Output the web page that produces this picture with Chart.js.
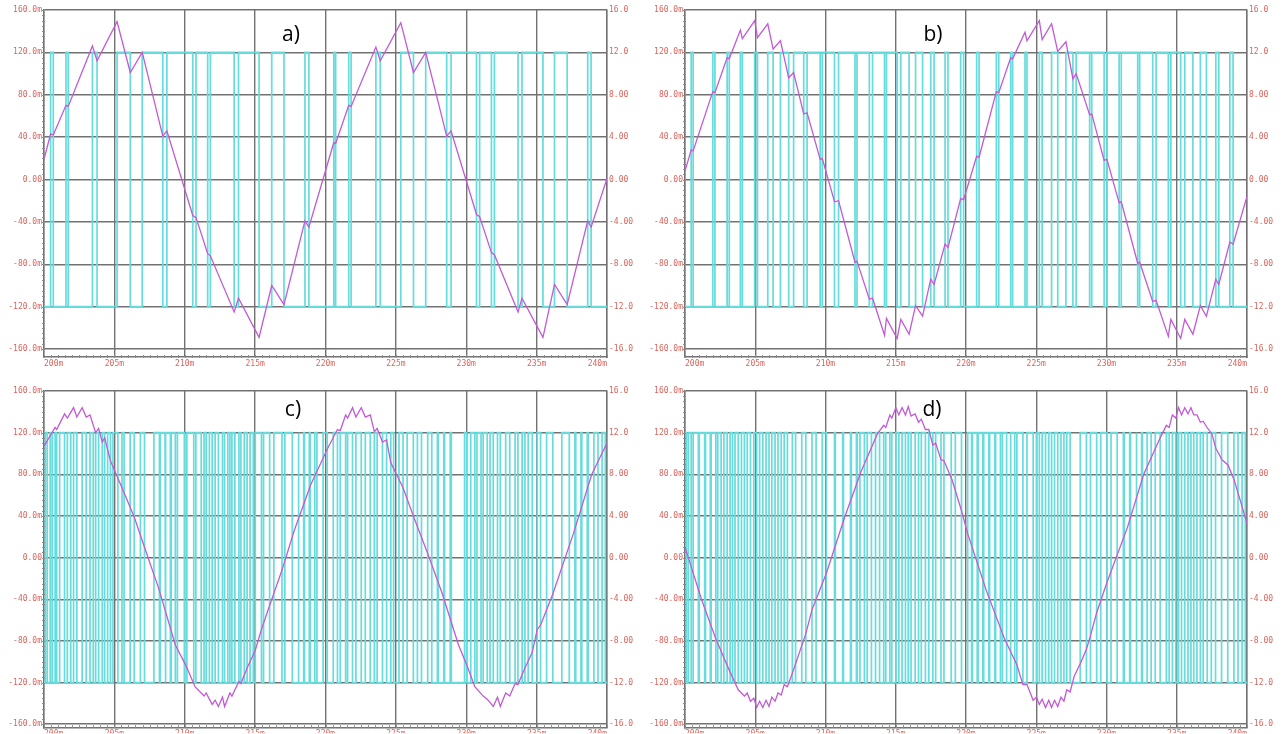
<!DOCTYPE html>
<html lang="en">
<head>
<meta charset="UTF-8">
<title>PWM current waveforms a-d</title>
<script src="https://cdn.jsdelivr.net/npm/chart.js@4.4.1/dist/chart.umd.min.js"></script>
<style>
    body { margin: 0; background: #fff; width: 1283px; height: 734px; overflow: hidden; position: relative; }
    canvas { position: absolute; }
    .tag { position: absolute; font-family: "Open Sans", sans-serif; font-size: 21px; color: #000; transform: translate(-50%, -50%); }
</style>
</head>
<body>
<canvas id="ca" width="641" height="372" style="left:0;top:0"></canvas>
<canvas id="cb" width="642" height="372" style="left:641px;top:0"></canvas>
<canvas id="cc" width="641" height="354" style="left:0;top:380px"></canvas>
<canvas id="cd" width="642" height="354" style="left:641px;top:380px"></canvas>
<div class="tag" style="left:291px;top:33px">a)</div>
<div class="tag" style="left:933px;top:33px">b)</div>
<div class="tag" style="left:293px;top:408px">c)</div>
<div class="tag" style="left:932px;top:408px">d)</div>

<script>
// axis ticks (time in ms, current in mA, voltage in V)
const xTicks = [200, 205, 210, 215, 220, 225, 230, 235, 240];
const xLabels = ['200m', '205m', '210m', '215m', '220m', '225m', '230m', '235m', '240m'];
const leftTicks = [160, 120, 80, 40, 0, -40, -80, -120, -160];
const leftLabels = ['160.0m', '120.0m', '80.0m', '40.0m', '0.00', '-40.0m', '-80.0m', '-120.0m', '-160.0m'];
const rightTicks = [16, 12, 8, 4, 0, -4, -8, -12, -16];
const rightLabels = ['16.0', '12.0', '8.00', '4.00', '0.00', '-4.00', '-8.00', '-12.0', '-16.0'];
const pwmLevel = 12;

// a) current vertices
const aCurT = [200.00, 200.47, 200.66, 201.56, 201.72, 203.44, 203.77, 205.19, 206.13, 206.98, 208.44, 208.73, 210.57, 210.80, 211.63, 211.82, 213.51, 213.82, 215.28, 216.18, 217.05, 218.54, 218.82, 220.59, 220.72, 221.65, 221.82, 223.58, 223.89, 225.35, 226.25, 227.12, 228.61, 228.92, 230.73, 230.95, 231.79, 232.00, 233.68, 233.96, 235.45, 236.27, 237.17, 238.63, 238.87, 240.00];
const aCurI = [19, 43, 42, 70, 69, 126, 112, 149, 101, 120, 41, 46, -34, -36, -70, -72, -125, -112, -149, -100, -118, -39, -45, 35, 34, 70, 69, 125, 112, 148, 101, 120, 41, 46, -33, -35, -69, -71, -125, -112, -149, -99, -118, -39, -45, 1];
// a) switching instants
const aSwitch = [200.47, 200.66, 201.56, 201.72, 203.44, 203.77, 205.19, 206.13, 206.98, 208.44, 208.73, 210.57, 210.80, 211.63, 211.82, 213.51, 213.82, 215.28, 216.18, 217.05, 218.54, 218.82, 220.59, 220.72, 221.65, 221.82, 223.58, 223.89, 225.35, 226.25, 227.12, 228.61, 228.92, 230.73, 230.95, 231.79, 232.00, 233.68, 233.96, 235.45, 236.27, 237.17, 238.63, 238.87];

// b)
const bCurT = [200.00, 200.44, 200.58, 201.98, 202.13, 203.00, 203.15, 203.94, 204.08, 204.96, 205.16, 205.89, 206.27, 206.79, 207.38, 207.73, 208.45, 208.69, 209.62, 209.77, 210.64, 210.93, 212.10, 212.24, 213.12, 213.35, 214.20, 214.34, 215.10, 215.36, 215.95, 216.41, 216.91, 217.49, 217.73, 218.51, 218.72, 219.62, 219.83, 220.76, 220.93, 222.16, 222.33, 223.18, 223.32, 224.20, 224.34, 225.22, 225.42, 226.09, 226.53, 227.11, 227.61, 227.84, 228.80, 228.95, 229.83, 230.03, 230.90, 231.05, 232.22, 232.36, 233.29, 233.53, 234.40, 234.58, 235.28, 235.57, 236.15, 236.68, 237.11, 237.78, 237.99, 238.78, 239.01, 240.00];
const bCurI = [8, 28, 27, 83, 82, 115, 114, 141, 133, 150, 134, 147, 123, 131, 96, 101, 62, 63, 19, 20, -21, -20, -78, -77, -113, -112, -147, -131, -150, -132, -146, -119, -129, -94, -99, -61, -64, -18, -19, 22, 21, 83, 82, 115, 114, 139, 131, 150, 132, 147, 121, 130, 95, 100, 61, 62, 18, 19, -22, -21, -79, -78, -115, -114, -148, -132, -150, -132, -146, -119, -129, -94, -99, -59, -61, -16];
const bSwitch = [200.44, 200.58, 201.98, 202.13, 203.00, 203.15, 203.94, 204.08, 204.96, 205.16, 205.89, 206.27, 206.79, 207.38, 207.73, 208.45, 208.69, 209.62, 209.77, 210.64, 210.93, 212.10, 212.24, 213.12, 213.35, 214.20, 214.34, 215.10, 215.36, 215.95, 216.41, 216.91, 217.49, 217.73, 218.51, 218.72, 219.62, 219.83, 220.76, 220.93, 222.16, 222.33, 223.18, 223.32, 224.20, 224.34, 225.22, 225.42, 226.09, 226.53, 227.11, 227.61, 227.84, 228.80, 228.95, 229.83, 230.03, 230.90, 231.05, 232.22, 232.36, 233.29, 233.53, 234.40, 234.58, 235.28, 235.57, 236.15, 236.68, 237.11, 237.78, 237.99, 238.78, 239.01];

// c)
const cCurT = [200.00, 200.79, 200.90, 201.46, 201.66, 202.10, 202.33, 202.71, 203.00, 203.27, 203.67, 203.88, 204.14, 204.31, 204.72, 205.54, 206.41, 207.14, 208.16, 209.33, 210.06, 210.73, 211.37, 211.52, 211.95, 212.16, 212.39, 212.68, 212.83, 213.21, 213.35, 213.85, 213.99, 214.43, 215.01, 215.45, 216.03, 216.91, 217.78, 218.95, 220.12, 220.85, 221.05, 221.43, 221.57, 221.92, 222.16, 222.54, 222.83, 223.18, 223.47, 223.67, 224.05, 224.34, 224.64, 225.51, 226.24, 227.26, 228.28, 229.45, 230.03, 230.61, 231.20, 231.49, 231.92, 232.22, 232.42, 232.80, 233.09, 233.47, 233.67, 234.17, 234.69, 235.04, 235.28, 236.15, 237.61, 238.92, 240.00];
const cCurI = [107, 125, 123, 138, 134, 144, 135, 144, 135, 137, 120, 124, 111, 115, 93, 67, 39, 10, -30, -84, -103, -124, -133, -130, -141, -137, -143, -134, -143, -130, -133, -119, -121, -106, -89, -69, -46, -12, 26, 70, 104, 123, 122, 137, 134, 144, 135, 144, 135, 137, 121, 124, 111, 113, 91, 67, 40, 4, -34, -84, -103, -124, -133, -136, -143, -134, -143, -130, -133, -121, -122, -106, -91, -69, -65, -35, 23, 80, 110];
const cSwitch = [200.09, 200.23, 200.44, 200.58, 200.79, 200.90, 201.11, 201.46, 201.66, 201.90, 202.10, 202.33, 202.71, 203.00, 203.27, 203.50, 203.67, 203.88, 204.14, 204.31, 204.52, 204.72, 204.90, 205.25, 205.54, 205.69, 206.12, 206.41, 206.85, 207.14, 207.81, 208.20, 208.26, 208.60, 208.66, 208.98, 209.04, 209.33, 209.48, 209.97, 210.15, 210.64, 210.79, 211.17, 211.37, 211.52, 211.75, 211.95, 212.16, 212.39, 212.68, 212.83, 213.06, 213.21, 213.35, 213.56, 213.85, 213.99, 214.23, 214.43, 214.64, 214.87, 215.01, 215.45, 215.60, 216.03, 216.33, 216.91, 217.11, 217.64, 218.05, 218.11, 218.45, 218.51, 218.85, 218.91, 219.24, 219.39, 219.83, 220.12, 220.55, 220.85, 221.05, 221.43, 221.57, 221.92, 222.16, 222.54, 222.83, 223.18, 223.47, 223.67, 224.05, 224.34, 224.64, 224.84, 225.22, 225.51, 225.80, 226.24, 226.53, 226.82, 227.26, 227.55, 227.95, 228.01, 228.40, 228.46, 228.86, 228.94, 229.88, 230.03, 230.32, 230.61, 230.76, 231.05, 231.20, 231.49, 231.69, 231.92, 232.22, 232.42, 232.80, 233.09, 233.47, 233.67, 233.97, 234.17, 234.40, 234.69, 235.04, 235.28, 235.71, 236.15, 236.79, 237.32, 237.72, 237.78, 238.15, 238.21, 238.60, 238.66, 239.07, 239.36, 239.65, 239.88];

// d)
const dCurT = [200.00, 201.17, 202.19, 203.21, 203.79, 204.23, 204.43, 204.66, 204.90, 205.10, 205.31, 205.54, 205.77, 205.98, 206.18, 206.41, 206.62, 206.85, 207.06, 207.29, 207.64, 208.60, 209.04, 210.06, 211.37, 212.54, 213.70, 214.14, 214.29, 214.58, 214.72, 215.01, 215.22, 215.45, 215.69, 215.89, 216.09, 216.38, 216.62, 216.82, 217.11, 217.35, 217.64, 217.84, 218.22, 218.43, 219.00, 219.68, 220.12, 221.43, 222.74, 223.62, 224.05, 224.34, 224.78, 225.01, 225.22, 225.42, 225.66, 225.89, 226.09, 226.30, 226.53, 226.76, 226.97, 227.17, 227.41, 227.70, 228.13, 228.57, 228.86, 229.30, 230.03, 231.49, 232.65, 233.82, 234.26, 234.46, 234.69, 234.93, 235.13, 235.34, 235.57, 235.80, 236.01, 236.21, 236.44, 236.68, 236.88, 237.20, 237.50, 237.78, 238.22, 238.65, 239.10, 240.00];
const dCurI = [10, -40, -78, -110, -127, -133, -130, -138, -135, -144, -138, -144, -137, -143, -134, -138, -130, -132, -122, -124, -111, -73, -50, -15, 39, 83, 119, 127, 125, 137, 134, 144, 137, 144, 137, 145, 136, 138, 130, 133, 123, 123, 108, 110, 94, 93, 75, 45, 23, -31, -78, -103, -122, -122, -137, -134, -141, -136, -144, -137, -144, -137, -143, -134, -138, -127, -129, -114, -102, -88, -75, -53, -24, 29, 80, 115, 127, 125, 137, 134, 144, 137, 144, 138, 144, 137, 137, 130, 131, 124, 119, 105, 94, 89, 74, 33];
const dSwitch = [200.09, 200.23, 200.44, 200.58, 200.95, 201.01, 201.40, 201.46, 201.80, 201.86, 202.19, 202.33, 202.57, 202.77, 203.00, 203.21, 203.38, 203.56, 203.79, 204.02, 204.23, 204.43, 204.66, 204.90, 205.10, 205.31, 205.54, 205.77, 205.98, 206.18, 206.41, 206.62, 206.85, 207.06, 207.29, 207.64, 207.87, 208.31, 208.60, 209.04, 209.33, 209.77, 210.06, 210.64, 210.70, 211.22, 211.28, 211.78, 211.84, 212.20, 212.26, 212.45, 212.77, 212.97, 213.27, 213.56, 213.85, 214.14, 214.29, 214.58, 214.72, 215.01, 215.22, 215.45, 215.69, 215.89, 216.09, 216.38, 216.62, 216.82, 217.11, 217.35, 217.64, 217.84, 218.22, 218.43, 218.95, 219.24, 219.68, 220.12, 220.40, 220.46, 220.80, 220.86, 221.20, 221.26, 221.62, 221.68, 222.05, 222.11, 222.45, 222.59, 222.89, 223.18, 223.47, 223.62, 224.05, 224.34, 224.78, 225.01, 225.22, 225.42, 225.66, 225.89, 226.09, 226.30, 226.53, 226.76, 226.97, 227.17, 227.41, 228.13, 228.57, 228.86, 229.30, 229.59, 230.03, 230.32, 230.76, 231.20, 231.26, 231.65, 231.71, 232.10, 232.16, 232.50, 232.56, 232.89, 233.18, 233.47, 233.82, 234.26, 234.46, 234.69, 234.93, 235.13, 235.34, 235.57, 235.80, 236.01, 236.21, 236.44, 236.68, 236.88, 237.17, 237.46, 237.76, 238.19, 238.63, 239.07, 239.36, 239.65, 239.88];

const GRID = '#727272';
const LABEL = '#d8655e';
const MAGENTA = '#c25ad6';
const CYAN = '#66dcdc';
const tickFont = { family: 'DejaVu Sans Mono', size: 8 };

function curPoints(t, i) {
    return t.map((v, k) => ({ x: v, y: i[k] }));
}

// square wave toggling between +/-pwmLevel at each switching instant
function pwmPoints(sw, startHigh) {
    let lv = startHigh ? pwmLevel : -pwmLevel;
    const pts = [{ x: xTicks[0], y: lv }];
    sw.forEach(t => {
        pts.push({ x: t, y: lv });
        lv = -lv;
        pts.push({ x: t, y: lv });
    });
    pts.push({ x: xTicks[xTicks.length - 1], y: lv });
    return pts;
}

const minorTicks = {
    id: 'minorTicks',
    afterDraw(chart) {
        const { ctx, chartArea: a, scales } = chart;
        ctx.save();
        ctx.strokeStyle = '#8c8c8c';
        ctx.lineWidth = 1;
        ctx.beginPath();
        for (let v = -160; v <= 160; v += 5) {
            const y = Math.round(scales.yL.getPixelForValue(v)) + 0.5;
            ctx.moveTo(a.left - 2, y);
            ctx.lineTo(a.left + 1, y);
        }
        for (let t = 200; t <= 240; t += 0.5) {
            const x = Math.round(scales.x.getPixelForValue(t)) + 0.5;
            ctx.moveTo(x, a.bottom + 1);
            ctx.lineTo(x, a.bottom - 2);
        }
        ctx.stroke();
        ctx.restore();
    }
};

function makePanel(id, cfg) {
    return new Chart(document.getElementById(id), {
        type: 'line',
        data: {
            datasets: [{
                data: curPoints(cfg.t, cfg.i),
                yAxisID: 'yL',
                borderColor: MAGENTA,
                borderWidth: 1.3,
                pointRadius: 0,
                order: 0
            }, {
                data: pwmPoints(cfg.sw, cfg.high),
                yAxisID: 'yR',
                borderColor: CYAN,
                borderWidth: 1.7,
                pointRadius: 0,
                order: 1
            }]
        },
        options: {
            responsive: false,
            animation: false,
            events: [],
            layout: { padding: { top: cfg.padTop, bottom: 0, left: 0, right: 0 } },
            plugins: { legend: { display: false }, tooltip: { enabled: false } },
            scales: {
                x: {
                    type: 'linear', min: 200, max: 240,
                    afterBuildTicks: s => { s.ticks = xTicks.map(v => ({ value: v })); },
                    afterFit: s => { s.height = cfg.xH; },
                    ticks: {
                        align: 'inner', maxRotation: 0, autoSkip: false, padding: 2,
                        color: LABEL, font: tickFont,
                        callback: v => xLabels[xTicks.indexOf(v)]
                    },
                    grid: { color: GRID, lineWidth: 1.4, drawTicks: false },
                    border: { color: GRID, width: 1.4 }
                },
                yL: {
                    position: 'left', min: cfg.yMin, max: 160,
                    afterBuildTicks: s => { s.ticks = leftTicks.map(v => ({ value: v })); },
                    afterFit: s => { s.width = 44; },
                    ticks: {
                        padding: 2, color: LABEL, font: tickFont,
                        callback: v => leftLabels[leftTicks.indexOf(v)]
                    },
                    grid: { color: GRID, lineWidth: 1.4, drawTicks: false },
                    border: { color: GRID, width: 1.4 }
                },
                yR: {
                    position: 'right', min: cfg.yMin / 10, max: 16,
                    afterBuildTicks: s => { s.ticks = rightTicks.map(v => ({ value: v })); },
                    afterFit: s => { s.width = cfg.rW; },
                    ticks: {
                        padding: 2, color: LABEL, font: tickFont,
                        callback: v => rightLabels[rightTicks.indexOf(v)]
                    },
                    grid: { display: false, drawTicks: false },
                    border: { color: GRID, width: 1.4 }
                }
            }
        },
        plugins: [minorTicks]
    });
}

makePanel('ca', { t: aCurT, i: aCurI, sw: aSwitch, high: false, padTop: 10, xH: 15, rW: 34, yMin: -167.5 });
makePanel('cb', { t: bCurT, i: bCurI, sw: bSwitch, high: false, padTop: 10, xH: 15, rW: 36, yMin: -167.5 });
makePanel('cc', { t: cCurT, i: cCurI, sw: cSwitch, high: false, padTop: 11, xH: 6, rW: 34, yMin: -162.9 });
makePanel('cd', { t: dCurT, i: dCurI, sw: dSwitch, high: true, padTop: 11, xH: 6, rW: 36, yMin: -162.9 });
</script>
</body>
</html>
